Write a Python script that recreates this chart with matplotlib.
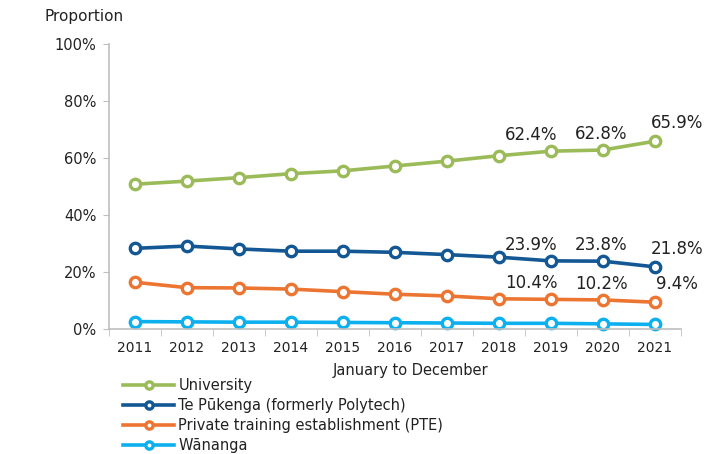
import matplotlib
matplotlib.use('Agg')
import matplotlib.pyplot as plt
from matplotlib.ticker import FixedLocator, PercentFormatter

plt.rcParams['font.family'] = ['DejaVu Sans']

years = [2011, 2012, 2013, 2014, 2015, 2016, 2017, 2018, 2019, 2020, 2021]
university = [50.8, 51.9, 53.1, 54.5, 55.5, 57.2, 58.9, 60.8, 62.4, 62.8, 65.9]
te_pukenga = [28.3, 29.1, 28.1, 27.3, 27.3, 26.9, 26.1, 25.2, 23.9, 23.8, 21.8]
pte = [16.4, 14.5, 14.4, 14.0, 13.1, 12.2, 11.6, 10.6, 10.4, 10.2, 9.4]
wananga = [2.6, 2.5, 2.4, 2.4, 2.3, 2.2, 2.1, 2.0, 2.0, 1.8, 1.6]

series = [
    ('University', university, '#9BBB59'),
    ('Te Pūkenga (formerly Polytech)', te_pukenga, '#135894'),
    ('Private training establishment (PTE)', pte, '#EC7631'),
    ('Wānanga', wananga, '#0CB0EE'),
]
labelled = [0, 1, 2]          # series that get value labels
label_years = [2019, 2020, 2021]
label_offsets = {2019: (-20, 16), 2020: (-2, 16), 2021: (22, 18)}

W, H = 722, 454
fig = plt.figure(figsize=(W / 100, H / 100), dpi=100)
ax = fig.add_axes([109 / W, (H - 329) / H, 572 / W, 285 / H])

for i, (name, vals, col) in enumerate(series):
    ax.plot(years, vals, color=col, lw=2.6, marker='o', ms=7.5,
            mfc='white', mec=col, mew=2.4, label=name, clip_on=False)
    if i in labelled:
        for yr in label_years:
            v = vals[years.index(yr)]
            dx, dy = label_offsets[yr]
            ax.annotate(f'{v:.1f}%', (yr, v), xytext=(dx, dy),
                        textcoords='offset pixels', ha='center', va='center',
                        fontsize=12, color='#222222')

ax.set_xlim(2010.5, 2021.5)
ax.set_ylim(0, 100)
ax.yaxis.set_major_locator(FixedLocator([0, 20, 40, 60, 80, 100]))
ax.yaxis.set_major_formatter(PercentFormatter(decimals=0))
ax.set_xticks(years)
ax.set_xticks([y + 0.5 for y in [2010] + years], minor=True)
ax.tick_params(axis='x', which='major', length=0, pad=9, labelsize=10, labelcolor='#222222')
ax.tick_params(axis='x', which='minor', length=5, color='#BFBFBF', direction='out')
ax.tick_params(axis='y', length=4, color='#BFBFBF', labelsize=10.5, labelcolor='#222222', pad=5)

for s in ['top', 'right']:
    ax.spines[s].set_visible(False)
for s in ['left', 'bottom']:
    ax.spines[s].set_color('#BFBFBF')
    ax.spines[s].set_linewidth(1.2)

fig.text(84 / W, 1 - 16 / H, 'Proportion', ha='center', va='center',
         fontsize=11, color='#222222')
fig.text(410 / W, 1 - 370 / H, 'January to December', ha='center', va='center',
         fontsize=10.5, color='#222222')

fig.legend(loc='upper left', bbox_to_anchor=(123 / W, 1 - 378 / H), frameon=False,
           fontsize=10.5, handlelength=3.5, handletextpad=0.3, labelspacing=0.35,
           borderpad=0, borderaxespad=0, labelcolor='#222222', markerscale=0.7)

fig.savefig('out.png', dpi=100)
